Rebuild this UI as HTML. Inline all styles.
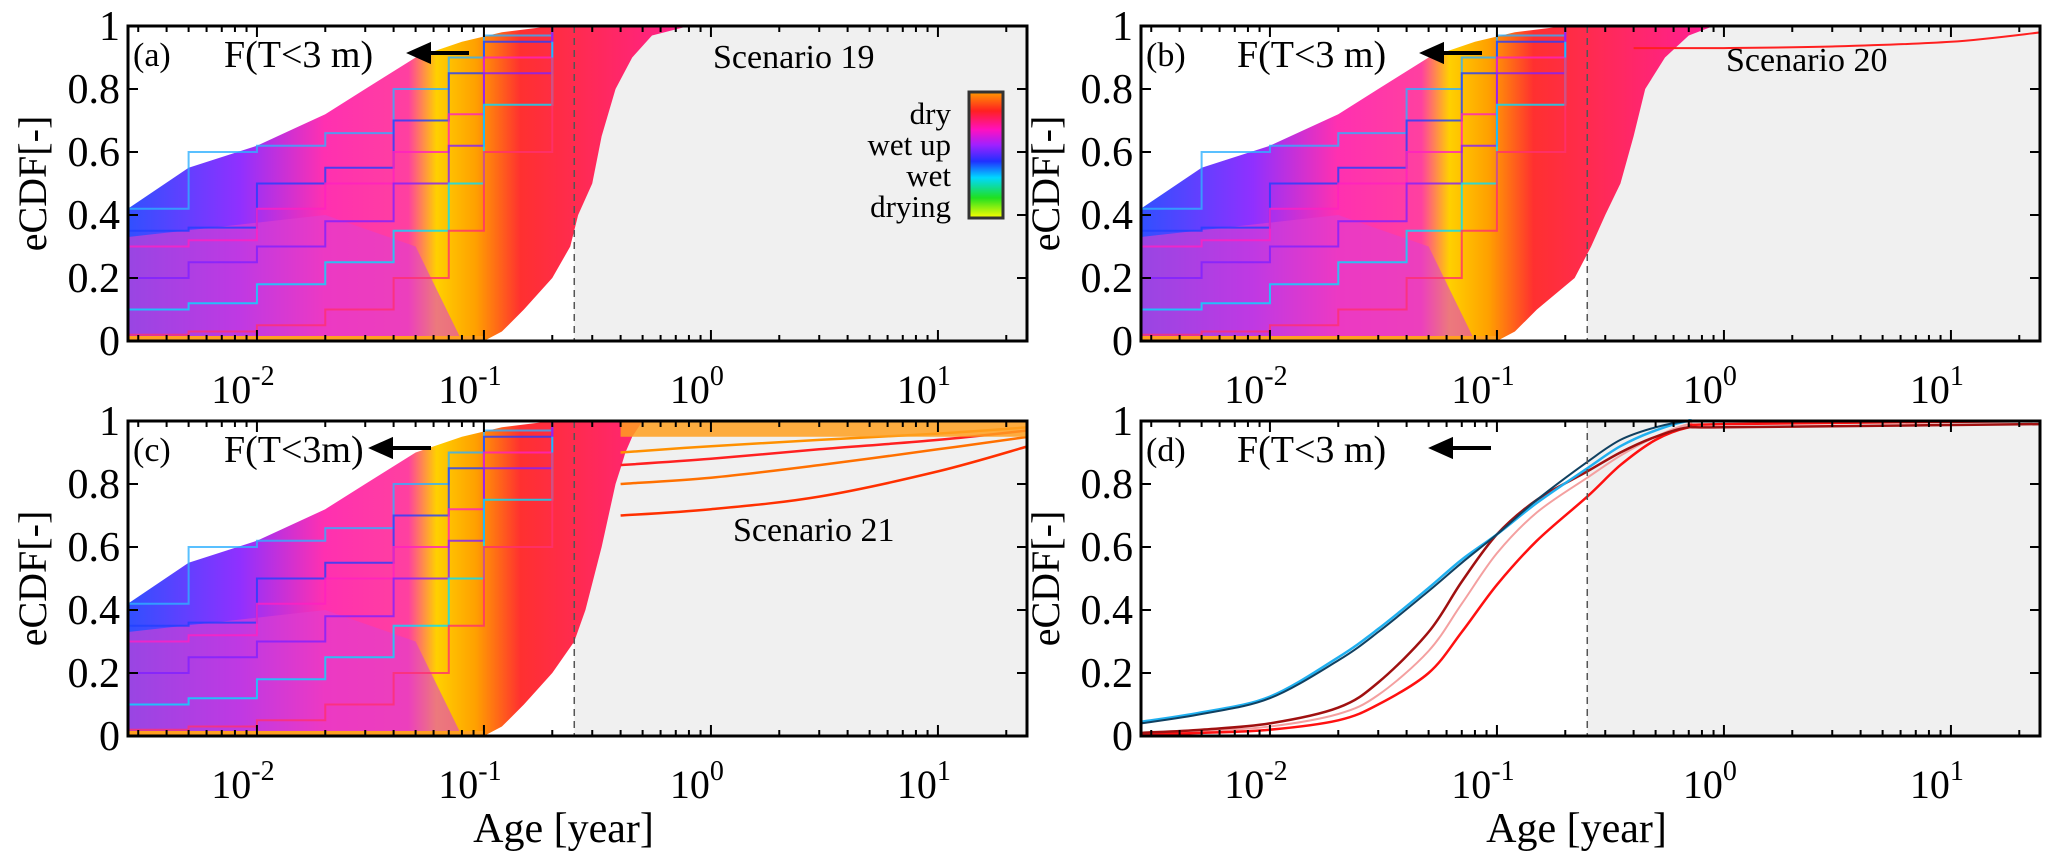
<!DOCTYPE html>
<html><head><meta charset="utf-8">
<style>
html,body{margin:0;padding:0;background:#fff;}
svg{display:block;}
svg text{font-family:"Liberation Serif","Times New Roman","DejaVu Serif",serif;}
</style></head>
<body>
<svg id="fig" width="2067" height="860" viewBox="0 0 2067 860" xmlns="http://www.w3.org/2000/svg" font-family="Liberation Serif, serif">
<defs>
<linearGradient id="cbar" x1="0" y1="0" x2="0" y2="1">
<stop offset="0" stop-color="#ff9a00"/><stop offset="0.15" stop-color="#ff2020"/><stop offset="0.3" stop-color="#ff10c0"/><stop offset="0.42" stop-color="#a020ff"/><stop offset="0.55" stop-color="#2030ff"/><stop offset="0.68" stop-color="#00d8ff"/><stop offset="0.84" stop-color="#20e020"/><stop offset="1" stop-color="#ffff00"/>
</linearGradient>
</defs>
</svg>
<script>
// ---- data ----
const xTickVals = [0.01, 0.1, 1, 10];
const xTickExp = ['-2', '-1', '0', '1'];
const yTickVals = [0, 0.2, 0.4, 0.6, 0.8, 1];
const yTickLabels = ['0', '0.2', '0.4', '0.6', '0.8', '1'];
const thresholdAge = 0.25;
const panelLetters = ['(a)', '(b)', '(c)', '(d)'];
const scenarioNames = ['Scenario 19', 'Scenario 20', 'Scenario 21', ''];
// envelopes of line bundles (panels a-c)
const upperX = [0.0027, 0.005, 0.01, 0.02, 0.03, 0.05, 0.08, 0.12, 0.2, 0.3];
const upperY = [0.42, 0.55, 0.62, 0.72, 0.8, 0.9, 0.95, 0.98, 1, 1];
const rightYA = [1, 0.97, 0.9, 0.8, 0.65, 0.5, 0.4, 0.3, 0.2, 0.1, 0.03, 0];
const rightXA = [0.8, 0.55, 0.45, 0.38, 0.33, 0.3, 0.26, 0.24, 0.2, 0.15, 0.12, 0.1];
const rightXB = [0.9, 0.7, 0.55, 0.45, 0.4, 0.35, 0.3, 0.26, 0.22, 0.15, 0.12, 0.1];
const rightYC = [1, 0.95, 0.9, 0.85, 0.8, 0.6, 0.4, 0.3, 0.2, 0.1, 0.03, 0];
const rightXC = [0.5, 0.45, 0.42, 0.4, 0.38, 0.33, 0.28, 0.25, 0.2, 0.15, 0.12, 0.1];
// representative step lines
const stepX = [0.0027, 0.005, 0.01, 0.02, 0.04, 0.07, 0.1, 0.2];
const stepLine1 = [0.42, 0.6, 0.62, 0.66, 0.8, 0.9, 0.97, 1];
const stepLine2 = [0.35, 0.36, 0.5, 0.55, 0.7, 0.85, 0.95, 1];
const stepLine3 = [0.3, 0.32, 0.42, 0.5, 0.6, 0.72, 0.9, 1];
const stepLine4 = [0.2, 0.25, 0.3, 0.38, 0.5, 0.62, 0.85, 0.98];
const stepLine5 = [0.1, 0.12, 0.18, 0.25, 0.35, 0.5, 0.75, 0.95];
const stepLine6 = [0.02, 0.03, 0.05, 0.1, 0.2, 0.35, 0.6, 0.9];
const stepColors = ['#30b0ff', '#2040ff', '#ff20c0', '#8020ff', '#00e0ff', '#ff3070'];
// panel b tail, panel c tails
const tailX = [0.4, 1, 3, 10, 25];
const tailB = [0.93, 0.93, 0.935, 0.95, 0.98];
const tailC1 = [0.7, 0.72, 0.76, 0.84, 0.92];
const tailC2 = [0.8, 0.82, 0.86, 0.91, 0.95];
const tailC3 = [0.86, 0.88, 0.91, 0.94, 0.97];
const tailC4 = [0.9, 0.92, 0.94, 0.96, 0.98];
// panel d curves
const dX = [0.0027, 0.005, 0.01, 0.02, 0.03, 0.05, 0.07, 0.1, 0.15, 0.25, 0.35, 0.5, 0.7, 1, 25];
const dBlue = [0.04, 0.07, 0.12, 0.24, 0.33, 0.46, 0.55, 0.64, 0.75, 0.87, 0.94, 0.98, 1, 1, 1];
const dCyan = [0.045, 0.075, 0.125, 0.25, 0.34, 0.47, 0.56, 0.64, 0.74, 0.85, 0.92, 0.97, 1, 1, 1];
const dDarkRed = [0.01, 0.02, 0.04, 0.09, 0.17, 0.33, 0.49, 0.64, 0.75, 0.84, 0.9, 0.95, 0.98, 0.98, 0.99];
const dPink = [0.008, 0.015, 0.03, 0.07, 0.13, 0.27, 0.42, 0.58, 0.71, 0.82, 0.89, 0.95, 0.99, 1, 1];
const dRed = [0.005, 0.01, 0.02, 0.05, 0.1, 0.2, 0.33, 0.48, 0.62, 0.76, 0.86, 0.94, 0.98, 0.99, 1];

// ---- layout ----
const NS = 'http://www.w3.org/2000/svg';
const svg = document.getElementById('fig');
const W = 899, H = 315, decade = 227, L0 = -2.568;
const FONT = '"Liberation Serif", "Times New Roman", serif';
const panels = [{x0:128,y0:26},{x0:1141,y0:26},{x0:128,y0:421},{x0:1141,y0:421}];
function mk(tag, attrs, parent){const e=document.createElementNS(NS,tag);for(const k in attrs)e.setAttribute(k,attrs[k]);if(tag==='text'){e.setAttribute('font-family','Liberation Serif, serif');e.style.fontFamily=FONT;}(parent||svg).appendChild(e);return e;}
function smoothPath(pts){
  let d='M'+pts[0][0].toFixed(1)+','+pts[0][1].toFixed(1);
  for(let i=0;i<pts.length-1;i++){
    const p0=pts[Math.max(0,i-1)],p1=pts[i],p2=pts[i+1],p3=pts[Math.min(pts.length-1,i+2)];
    const c1=[p1[0]+(p2[0]-p0[0])/6,p1[1]+(p2[1]-p0[1])/6];
    const c2=[p2[0]-(p3[0]-p1[0])/6,p2[1]-(p3[1]-p1[1])/6];
    d+=' C'+c1[0].toFixed(1)+','+c1[1].toFixed(1)+' '+c2[0].toFixed(1)+','+c2[1].toFixed(1)+' '+p2[0].toFixed(1)+','+p2[1].toFixed(1);
  }
  return d;
}

panels.forEach((p,i)=>{
  const xs = v => p.x0 + (Math.log10(v)-L0)*decade;
  const ys = v => p.y0 + H - v*H;
  const g = mk('g',{});
  
  
  const cid='clip'+i;
  const cp=mk('clipPath',{id:cid},g);mk('rect',{x:p.x0,y:p.y0-2,width:W,height:H+2},cp);
  const shade=mk('rect',{x:xs(thresholdAge),y:p.y0,width:p.x0+W-xs(thresholdAge),height:H,fill:'#f0f0f0'},g);
  
  
  const pg=mk('g',{'clip-path':'url(#'+cid+')'},g);
  function line(xa,ya,col,w,name,smooth){
    const pts=xa.map((x,j)=>[xs(x),ys(ya[j])]);
    const d=smooth?smoothPath(pts):pts.map((q,j)=>(j?'L':'M')+q[0].toFixed(1)+','+q[1].toFixed(1)).join(' ');
    const e=mk('path',{d:d,fill:'none',stroke:col,'stroke-width':w},pg);
    
    
    return e;
  }
  function stepLine(xa,ya,col,name){
    let d='';xa.forEach((x,j)=>{ if(j===0)d+='M'+xs(x)+','+ys(ya[j]); else d+=' H'+xs(x)+' V'+ys(ya[j]); });
    const e=mk('path',{d:d,fill:'none',stroke:col,'stroke-width':2,opacity:0.8},pg);
    
    
  }
  if(i<3){
    const rX=[rightXA,rightXB,rightXC][i], rY=i===2?rightYC:rightYA;
    const gid='grad'+i;
    const lg=mk('linearGradient',{id:gid,gradientUnits:'userSpaceOnUse',x1:xs(0.0027),y1:0,x2:xs(0.8),y2:0},svg.querySelector('defs'));
    [[0,'#3050ff'],[0.2,'#9030ff'],[0.35,'#ff30b0'],[0.5,'#ff40a0'],[0.55,'#ffd000'],[0.62,'#ffa000'],[0.7,'#ff3030'],[1,'#ff2090']].forEach(s=>mk('stop',{offset:s[0],'stop-color':s[1]},lg));
    let d='M'+xs(0.0027)+','+ys(0);
    upperX.forEach((x,j)=>{d+=' L'+xs(x)+','+ys(upperY[j]);});
    d+=' L'+xs(rX[0])+','+ys(1);
    rX.forEach((x,j)=>{d+=' L'+xs(x)+','+ys(rY[j]);});
    d+=' Z';
    const band=mk('path',{d:d,fill:'url(#'+gid+')'},pg);
    
    
    const lo=mk('path',{d:'M'+xs(0.0027)+','+ys(0)+' L'+xs(0.0027)+','+ys(0.33)+' L'+xs(0.02)+','+ys(0.4)+' L'+xs(0.05)+','+ys(0.3)+' L'+xs(0.08)+','+ys(0)+' Z',fill:'#e040d0',opacity:0.6},pg);
    
    
    [stepLine1,stepLine2,stepLine3,stepLine4,stepLine5,stepLine6].forEach((s,k)=>stepLine(stepX,s,stepColors[k],'ecdf-line-'+(k+1)));
    mk('rect',{x:xs(0.0027),y:ys(0)-5,width:xs(0.1)-xs(0.0027),height:5,fill:'#ffa020'},pg);
    if(i===1) line(tailX,tailB,'#ff2020',2,'ecdf-tail-line',true);
    if(i===2){[tailC1,tailC2,tailC3,tailC4].forEach((t,k)=>line(tailX,t,['#ff3000','#ff7000','#ff2020','#ff9000'][k],2.5,'ecdf-tail-line-'+(k+1),true));
      mk('rect',{x:xs(0.4),y:ys(1),width:xs(25)-xs(0.4),height:ys(0.95)-ys(1),fill:'#ffa020',opacity:0.85},pg);}
  } else {
    line(dX,dPink,'#f4a0a0',2,'curve-pink',true);
    line(dX,dRed,'#ff1010',2.5,'curve-red',true);
    line(dX,dDarkRed,'#a01010',2.5,'curve-dark-red',true);
    line(dX,dCyan,'#20b0f0',2.5,'curve-cyan',true);
    line(dX,dBlue,'#104060',2,'curve-dark-blue',true);
  }
  const dash=mk('line',{x1:xs(thresholdAge),x2:xs(thresholdAge),y1:p.y0,y2:p.y0+H,stroke:'#555','stroke-width':1.5,'stroke-dasharray':'7,5'},g);
  
  
  const fr=mk('rect',{x:p.x0,y:p.y0,width:W,height:H,fill:'none',stroke:'#000','stroke-width':3},g);
  
  
  for(let e=-3;e<=1;e++){for(let m=1;m<10;m++){const v=m*Math.pow(10,e);const x=xs(v);if(x<p.x0||x>p.x0+W)continue;const len=m===1?11:6;
    mk('line',{x1:x,x2:x,y1:p.y0+H,y2:p.y0+H-len,stroke:'#000','stroke-width':2},g);
    mk('line',{x1:x,x2:x,y1:p.y0,y2:p.y0+len,stroke:'#000','stroke-width':2},g);}}
  xTickVals.forEach((v,k)=>{
    const t=mk('text',{x:xs(v)-14,y:p.y0+H+62,'font-size':40,'text-anchor':'middle'},g);
    
    
    t.textContent='10';
    const s=mk('tspan',{dy:-18,'font-size':28},t);s.textContent=xTickExp[k];
  });
  yTickVals.forEach((v,k)=>{
    const y=ys(v);
    mk('line',{x1:p.x0,x2:p.x0+10,y1:y,y2:y,stroke:'#000','stroke-width':2},g);
    mk('line',{x1:p.x0+W,x2:p.x0+W-10,y1:y,y2:y,stroke:'#000','stroke-width':2},g);
    const t=mk('text',{x:p.x0-8,y:y+14,'font-size':42,'text-anchor':'end'},g);
    
    
    t.textContent=yTickLabels[k];
  });
  const yl=mk('text',{x:0,y:0,'font-size':40,'text-anchor':'middle',transform:'translate('+(p.x0-82)+','+(p.y0+H/2)+') rotate(-90)'},g);
  
  
  yl.textContent='eCDF[-]';
  const pl=mk('text',{x:p.x0+5,y:p.y0+40,'font-size':34},g);
  
  
  pl.textContent=panelLetters[i];
  const ft=mk('text',{x:p.x0+96,y:p.y0+41,'font-size':38},g);
  
  
  ft.textContent=i===2?'F(T<3m)':'F(T<3 m)';
  const ax=p.x0+(i===2?245:(i===3?292:283));
  const ar=mk('path',{d:'M'+(ax+58)+','+(p.y0+27)+' H'+(ax+16)+' M'+ax+','+(p.y0+27)+' l18,-8 v16 z',stroke:'#000','stroke-width':4,fill:'#000'},g);
  
  
  if(scenarioNames[i]){
    const sp=i===2?{x:p.x0+605,y:p.y0+120}:{x:p.x0+585,y:p.y0+42+(i===1?3:0)};
    const sn=mk('text',{x:sp.x,y:sp.y,'font-size':34},g);
    
    
    sn.textContent=scenarioNames[i];
  }
  if(i===2||i===3){
    const xl=mk('text',{x:p.x0+W/2-14,y:842,'font-size':42,'text-anchor':'middle'},g);
    
    
    xl.textContent='Age [year]';
  }
});
const cb=mk('rect',{x:969,y:92,width:34,height:126,fill:'url(#cbar)',stroke:'#333','stroke-width':3});


const cbLabels=['dry','wet up','wet','drying'];
cbLabels.forEach((s,k)=>{const t=mk('text',{x:951,y:124+k*31,'font-size':31,'text-anchor':'end'});
  
  
  t.textContent=s;});
</script>
</body></html>
